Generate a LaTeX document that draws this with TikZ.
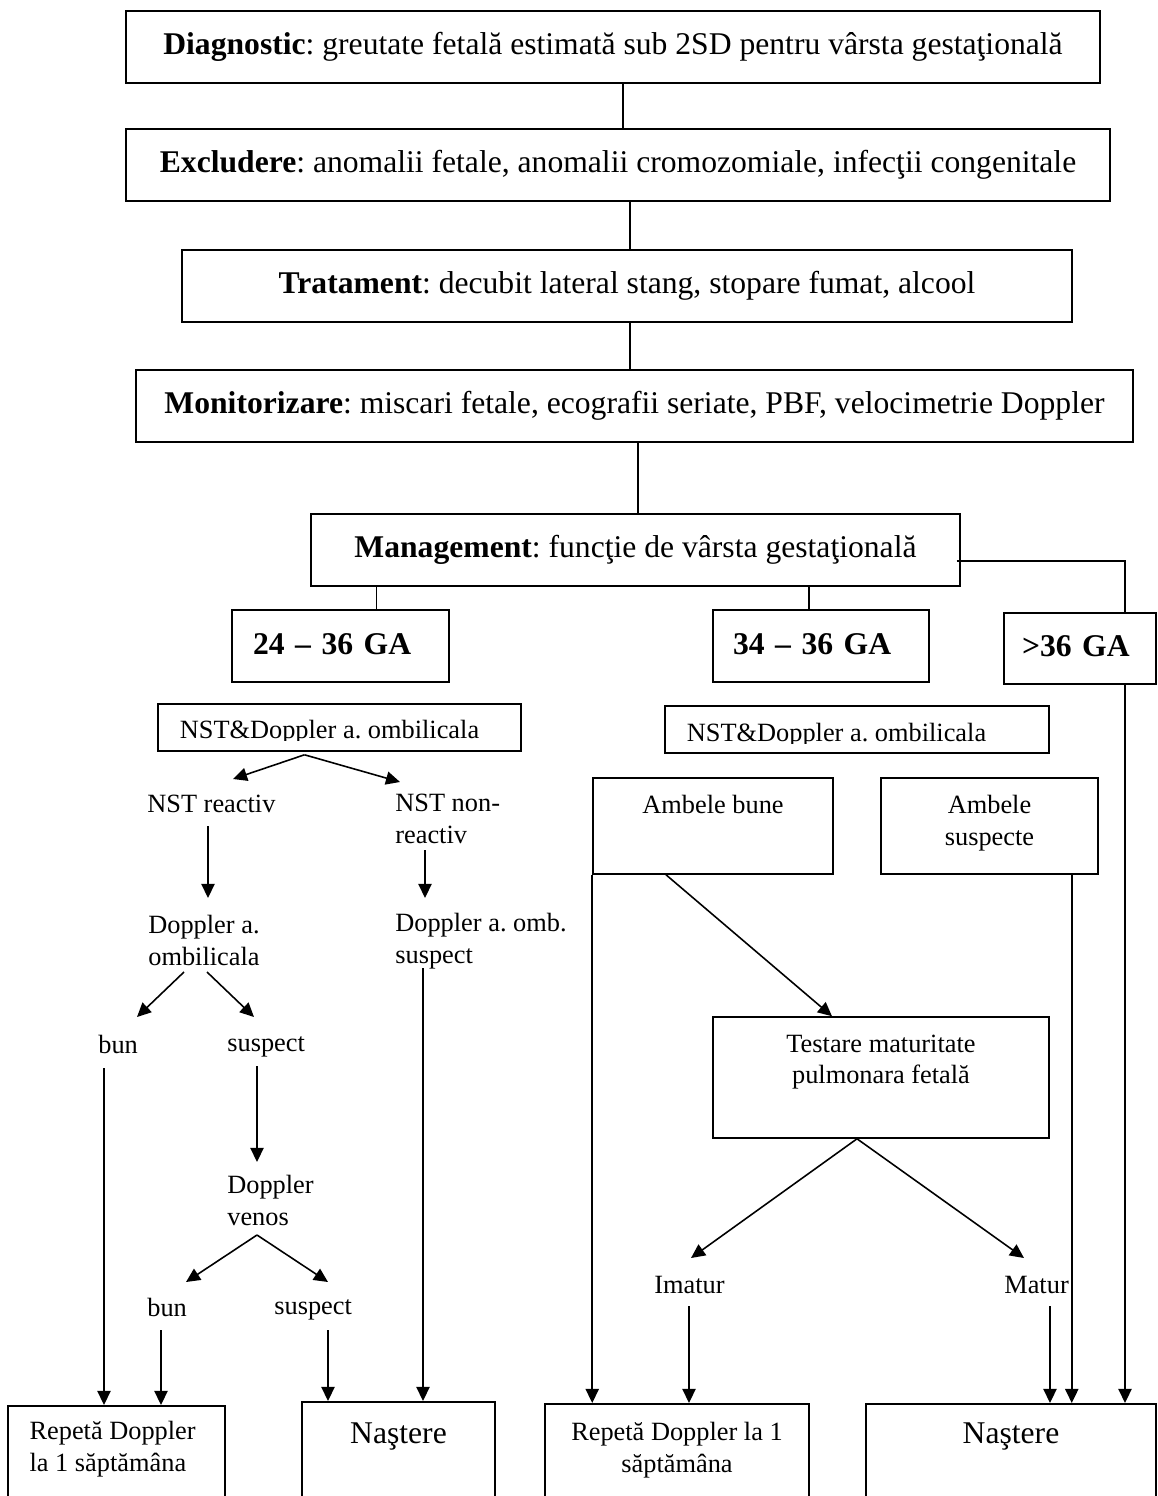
\documentclass[tikz,border=0pt]{standalone}
\usepackage{fontspec}
\setmainfont{Liberation Serif}
\usepackage{tikz}
\usetikzlibrary{arrows.meta,calc}

\newcommand{\hdfont}{\fontsize{18}{21.6}\selectfont}
\newcommand{\bdfont}{\fontsize{15}{18}\selectfont}
\frenchspacing

\tikzset{
    box/.style={
        rectangle,
        draw,
        line width=0.9pt,
        inner sep=0pt
    },
    headbox/.style={
        box,
        font=\hdfont,
        minimum height=1.44cm
    },
    gabox/.style={
        box,
        font=\hdfont\bfseries,
        align=left,
        text depth=0.25em, % lifts the label a little, as in the boxes above
        minimum height=1.44cm
    },
    txt/.style={
        anchor=base west, % base = last line for two-line labels
        font=\bdfont,
        align=left,
        inner sep=0pt
    },
    cuttxt/.style={
        txt,
        draw=none,
        minimum width=0pt,
        minimum height=0pt
    },
    toptxt/.style={
        anchor=north,
        font=\bdfont,
        align=center,
        inner sep=0pt
    },
    link/.style={
        draw,
        line width=0.9pt
    },
    arrow/.style={
        -{Triangle[length=8pt,width=7.5pt]},
        line width=0.9pt
    }
}

\begin{document}
\begin{tikzpicture}[x=0.02cm, y=-0.02cm]
    \useasboundingbox (0,0) rectangle (1158,1496);
    \clip (0,0) rectangle (1158,1496);

    % Main chain
    \node[headbox, minimum width=19.48cm] (diag) at (613,47)
        {\textbf{Diagnostic}: greutate fetală estimată sub 2SD pentru vârsta gestaţională};
    \node[headbox, minimum width=19.68cm] (excl) at (618,165)
        {\textbf{Excludere}: anomalii fetale, anomalii cromozomiale, infecţii congenitale};
    \node[headbox, minimum width=17.8cm] (trat) at (627,286)
        {\textbf{Tratament}: decubit lateral stang, stopare fumat, alcool};
    \node[headbox, minimum width=19.94cm] (monit) at (634.5,406)
        {\textbf{Monitorizare}: miscari fetale, ecografii seriate, PBF, velocimetrie Doppler};
    \node[headbox, minimum width=12.98cm] (mgmt) at (635.5,550)
        {\textbf{Management}: funcţie de vârsta gestaţională};

    % Gestational age groups
    \node[gabox, text width=3.5cm, inner xsep=0.42cm] (ga1) at (340.5,646) {24 – 36 GA};
    \node[gabox, text width=3.52cm, inner xsep=0.4cm] (ga2) at (821,646) {34 – 36 GA};
    \node[gabox, text width=2.32cm, inner xsep=0.36cm, minimum height=1.42cm] (ga3) at (1080,648.5) {>36 GA};

    % NST + Doppler boxes (text frame cuts the descenders)
    \node[box, minimum width=7.26cm, minimum height=0.94cm,
          path picture={
            \clip (path picture bounding box.north west)
                  rectangle ([yshift=0.22cm]path picture bounding box.south east);
            \node[cuttxt] at ([xshift=0.42cm, yshift=0.25cm]path picture bounding box.south west)
                  {NST\&Doppler a. ombilicala};
          }] (nst1) at (339.5,727.5) {};
    \node[box, minimum width=7.68cm, minimum height=0.94cm,
          path picture={
            \clip (path picture bounding box.north west)
                  rectangle ([yshift=0.2cm]path picture bounding box.south east);
            \node[cuttxt] at ([xshift=0.42cm, yshift=0.24cm]path picture bounding box.south west)
                  {NST\&Doppler a. ombilicala};
          }] (nst2) at (857,729.5) {};

    % Left branch
    \node[txt] (nstr) at (147,812) {NST reactiv};
    \node[txt] (nstn) at (395,843) {NST non-\\reactiv};
    \node[txt] (dop1) at (148,965) {Doppler a.\\ombilicala};
    \node[txt] (dop2) at (395,963) {Doppler a. omb.\\suspect};
    \node[txt] (bun1) at (98,1053) {bun};
    \node[txt] (susp1) at (227,1051) {suspect};
    \node[txt] (dven) at (227,1225) {Doppler\\venos};
    \node[txt] (bun2) at (147,1316) {bun};
    \node[txt] (susp2) at (274,1314) {suspect};

    % Right branch
    \node[box, minimum width=4.8cm, minimum height=1.92cm,
          label={[toptxt, yshift=-0.36cm]north:Ambele bune}] (amb1) at (713,826) {};
    \node[box, minimum width=4.34cm, minimum height=1.92cm,
          label={[toptxt, yshift=-0.36cm]north:Ambele\\suspecte}] (amb2) at (989.5,826) {};
    \node[box, minimum width=6.72cm, minimum height=2.42cm,
          label={[toptxt, yshift=-0.36cm]north:Testare maturitate\\pulmonara fetală}] (test) at (881,1077.5) {};
    \node[txt] (imat) at (654,1293) {Imatur};
    \node[txt] (matur) at (1004,1293) {Matur};

    % Outcomes
    \node[box, anchor=north, minimum width=4.34cm, minimum height=2.6cm,
          label={[toptxt, anchor=north west, align=left, xshift=0.44cm, yshift=-0.32cm]north west:Repetă Doppler\\la 1 săptămâna}] (rep1) at (116.5,1405) {};
    \node[box, anchor=north, minimum width=3.86cm, minimum height=2.6cm,
          label={[toptxt, font=\hdfont, yshift=-0.42cm]north:Naştere}] (nas1) at (398.5,1401) {};
    \node[box, anchor=north, minimum width=5.28cm, minimum height=2.6cm,
          label={[toptxt, yshift=-0.38cm]north:Repetă Doppler la 1\\săptămâna}] (rep2) at (677,1403) {};
    \node[box, anchor=north, minimum width=5.8cm, minimum height=2.6cm,
          label={[toptxt, font=\hdfont, yshift=-0.38cm]north:Naştere}] (nas2) at (1011,1403) {};

    % Links of the main chain
    \draw[link] ($(diag.south)+(10,0)$) coordinate (d1) -- (d1 |- excl.north);
    \draw[link] ($(excl.south)+(12,0)$) coordinate (d2) -- (d2 |- trat.north);
    \draw[link] ($(trat.south)+(3,0)$) coordinate (d3) -- (d3 |- monit.north);
    \draw[link] ($(monit.south)+(3.5,0)$) coordinate (d4) -- (d4 |- mgmt.north);
    \draw[link] ($(ga1.north)+(36,0)$) coordinate (g1) -- (g1 |- mgmt.south);
    \draw[link] ($(ga2.north)+(-12,0)$) coordinate (g2) -- (g2 |- mgmt.south);
    \draw[link] ($(mgmt.east)+(-4,11)$) -| ($(ga3.north)+(45,0)$);

    % Arrows, left branch
    \draw[arrow] ($(nst1.south)+(-35,3)$) coordinate (f1) -- ($(nstr.base west)+(86,-33)$);
    \draw[arrow] (f1) -- ($(nstn.base west)+(5,-61)$);
    \draw[arrow] ($(nstr.base west)+(61,14)$) -- ($(dop1.base west)+(60,-67)$);
    \draw[arrow] ($(nstn.base west)+(30,7)$) -- ($(dop2.base west)+(30,-65)$);
    \draw[arrow] ($(dop1.base west)+(36,7)$) -- ($(bun1.base west)+(39,-36)$);
    \draw[arrow] ($(dop1.base west)+(59,7)$) -- ($(susp1.base west)+(27,-34)$);
    \draw[arrow] ($(susp1.base west)+(30,15)$) -- ($(dven.base west)+(30,-63)$);
    \draw[arrow] ($(dven.base west)+(30,10)$) coordinate (f2) -- ($(bun2.base west)+(39,-34)$);
    \draw[arrow] (f2) -- ($(susp2.base west)+(54,-32)$);
    \draw[arrow] ($(bun1.base west)+(6,15)$) coordinate (e1) -- (e1 |- rep1.north);
    \draw[arrow] ($(bun2.base west)+(14,14)$) coordinate (e2) -- (e2 |- rep1.north);
    \draw[arrow] ($(susp2.base west)+(54,16)$) coordinate (e3) -- (e3 |- nas1.north);
    \draw[arrow] ($(dop2.base west)+(28,5)$) coordinate (e4) -- (e4 |- nas1.north);

    % Arrows, right branch
    \draw[arrow] ($(amb1.south)+(-47,0)$) -- ($(test.north)+(-49,0)$);
    \draw[arrow] (amb1.south west) -- (amb1.south west |- rep2.north);
    \draw[arrow] ($(amb2.south east)+(-27,0)$) coordinate (e5) -- (e5 |- nas2.north);
    \draw[arrow] ($(ga3.south)+(45,0)$) coordinate (e6) -- (e6 |- nas2.north);
    \draw[arrow] ($(test.south)+(-24,0)$) coordinate (f3) -- ($(imat.base west)+(37,-35)$);
    \draw[arrow] (f3) -- ($(matur.base west)+(20,-35)$);
    \draw[arrow] ($(imat.base west)+(35,13)$) coordinate (e7) -- (e7 |- rep2.north);
    \draw[arrow] ($(matur.base west)+(46,13)$) coordinate (e8) -- (e8 |- nas2.north);
\end{tikzpicture}
\end{document}
